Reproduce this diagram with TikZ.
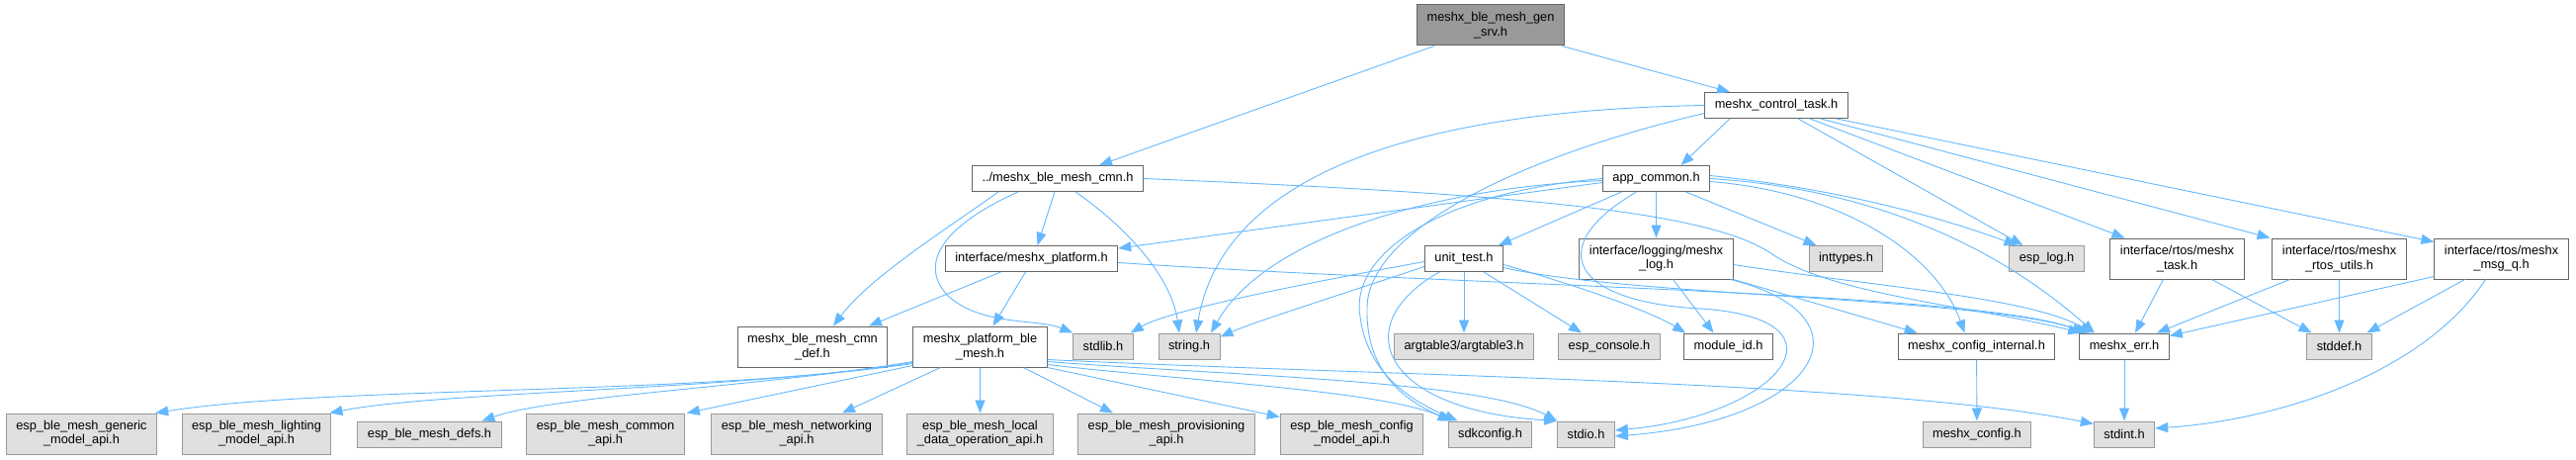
\documentclass[tikz,border=0pt]{standalone}
\usepackage{fontspec}
\setmainfont{Liberation Sans}
\usetikzlibrary{arrows.meta}
\definecolor{edge}{HTML}{63B8FF}
\definecolor{boxline}{HTML}{666666}
\definecolor{sysline}{HTML}{999999}
\definecolor{sysfill}{HTML}{E0E0E0}
\definecolor{rootfill}{HTML}{999999}
\tikzset{
  >={Triangle[length=13pt,width=10pt]},
  every node/.style={font=\fontsize{12.8}{14.3}\selectfont},
  hfile/.style={draw=boxline,line width=1pt,fill=white,align=center,inner xsep=10pt,
                inner ysep=2pt,minimum height=26pt},
  sysfile/.style={hfile,draw=sysline,fill=sysfill},
  rootfile/.style={hfile,draw=boxline,fill=rootfill},
  twoline/.style={minimum height=41pt},
  dep/.style={->,draw=edge,line width=0.9pt},
}

\begin{document}
\begin{tikzpicture}[x=1pt,y=1pt]
  \useasboundingbox (0,0) rectangle (2606,-465);

  % top levels
  \node[rootfile,twoline] (root) at (1508,-25.5) {meshx\_ble\_mesh\_gen\\\_srv.h};
  \node[hfile] (ctl) at (1797,-106.5) {meshx\_control\_task.h};
  \node[hfile] (cmn) at (1070,-180.5) {../meshx\_ble\_mesh\_cmn.h};
  \node[hfile] (app) at (1675.5,-180.5) {app\_common.h};

  % third row
  \node[hfile] (plat) at (1043.5,-261.5) {interface/meshx\_platform.h};
  \node[hfile] (unit) at (1481,-261.5) {unit\_test.h};
  \node[hfile,twoline] (log) at (1675.5,-261.5) {interface/logging/meshx\\\_log.h};
  \node[sysfile] (inttypes) at (1867.5,-261.5) {inttypes.h};
  \node[sysfile] (esplog) at (2070.5,-261.5) {esp\_log.h};
  \node[hfile,twoline] (rtask) at (2202.5,-261.5) {interface/rtos/meshx\\\_task.h};
  \node[hfile,twoline] (rutils) at (2366.5,-261.5) {interface/rtos/meshx\\\_rtos\_utils.h};
  \node[hfile,twoline] (msgq) at (2530.5,-261.5) {interface/rtos/meshx\\\_msg\_q.h};

  % fourth row
  \node[hfile,twoline] (cmndef) at (822,-350.5) {meshx\_ble\_mesh\_cmn\\\_def.h};
  \node[hfile,twoline] (pble) at (991.5,-350.5) {meshx\_platform\_ble\\\_mesh.h};
  \node[sysfile] (stdlib) at (1116,-350) {stdlib.h};
  \node[sysfile] (string) at (1203,-350) {string.h};
  \node[sysfile] (argtable) at (1481,-350) {argtable3/argtable3.h};
  \node[sysfile] (console) at (1628,-350) {esp\_console.h};
  \node[hfile] (module) at (1748.5,-350) {module\_id.h};
  \node[hfile] (cfgint) at (1999.5,-350) {meshx\_config\_internal.h};
  \node[hfile] (err) at (2149,-350) {meshx\_err.h};
  \node[sysfile] (stddef) at (2366.5,-350) {stddef.h};

  % bottom row
  \node[sysfile,twoline] (generic) at (82.5,-438.5) {esp\_ble\_mesh\_generic\\\_model\_api.h};
  \node[sysfile,twoline] (lighting) at (259.5,-438.5) {esp\_ble\_mesh\_lighting\\\_model\_api.h};
  \node[sysfile] (defs) at (434.5,-439) {esp\_ble\_mesh\_defs.h};
  \node[sysfile,twoline] (common) at (612.5,-438.5) {esp\_ble\_mesh\_common\\\_api.h};
  \node[sysfile,twoline] (networking) at (806,-438.5) {esp\_ble\_mesh\_networking\\\_api.h};
  \node[sysfile,twoline] (local) at (991.5,-438.5) {esp\_ble\_mesh\_local\\\_data\_operation\_api.h};
  \node[sysfile,twoline] (prov) at (1180,-438.5) {esp\_ble\_mesh\_provisioning\\\_api.h};
  \node[sysfile,twoline] (cfgmodel) at (1367.5,-438.5) {esp\_ble\_mesh\_config\\\_model\_api.h};
  \node[sysfile] (sdkconfig) at (1507.5,-439) {sdkconfig.h};
  \node[sysfile] (stdio) at (1604.5,-439) {stdio.h};
  \node[sysfile] (cfg) at (2000,-439) {meshx\_config.h};
  \node[sysfile] (stdint) at (2149,-439) {stdint.h};

  % from the root file
  \draw[dep] ([xshift=-57pt]root.south) -- ([xshift=42pt]cmn.north);
  \draw[dep] ([xshift=72pt]root.south) -- ([xshift=-47pt]ctl.north);

  % meshx_control_task.h
  \draw[dep] ([xshift=-47pt]ctl.south) -- ([xshift=25pt]app.north);
  \draw[dep] (ctl.west) .. controls (1400,-112) and (1235,-190) .. ([xshift=7pt]string.north);
  \draw[dep] ([yshift=-8pt]ctl.west) .. controls (1530,-160) and (1385,-235) .. (1383,-310)
             .. controls (1381,-375) and (1420,-405) .. ([xshift=-38pt]sdkconfig.north);
  \draw[dep] ([xshift=22pt]ctl.south) -- ([xshift=-24pt]esplog.north);
  \draw[dep] ([xshift=34pt]ctl.south) -- ([xshift=-53pt]rtask.north);
  \draw[dep] ([xshift=45pt]ctl.south) -- ([xshift=-70pt]rutils.north);
  \draw[dep] ([xshift=61pt]ctl.south) -- ([yshift=-4pt]msgq.north west);

  % ../meshx_ble_mesh_cmn.h
  \draw[dep] ([xshift=-3pt]cmn.south) -- ([xshift=6pt]plat.north);
  \draw[dep] ([xshift=18pt]cmn.south) .. controls (1140,-230) and (1185,-280) .. ([xshift=-10pt]string.north);
  \draw[dep] ([xshift=-40pt]cmn.south) .. controls (960,-225) and (925,-265) .. (960,-300)
             .. controls (995,-330) and (1050,-322) .. (stdlib.north west);
  \draw[dep] ([xshift=-60pt]cmn.south) .. controls (960,-230) and (880,-280) .. ([xshift=21pt]cmndef.north);
  \draw[dep] (cmn.east) .. controls (1500,-195) and (1720,-210) .. (1790,-255)
             .. controls (1850,-298) and (2000,-310) .. ([xshift=2pt]err.north west);

  % interface/meshx_platform.h
  \draw[dep] ([xshift=-31pt]plat.south) -- ([xshift=57pt]cmndef.north);
  \draw[dep] ([xshift=-6pt]plat.south) -- ([xshift=13pt]pble.north);
  \draw[dep] ([yshift=-4pt]plat.east) .. controls (1500,-290) and (2000,-295) .. ([xshift=6pt]err.north west);

  % meshx_platform_ble_mesh.h
  \draw[dep] ([yshift=4pt]pble.south west) .. controls (700,-400) and (330,-390) .. ([xshift=-2pt]generic.north east);
  \draw[dep] ([yshift=5pt]pble.south west) .. controls (740,-395) and (450,-395) .. ([xshift=-2pt]lighting.north east);
  \draw[dep] ([yshift=6pt]pble.south west) .. controls (780,-390) and (560,-400) .. ([xshift=53pt]defs.north);
  \draw[dep] ([yshift=2pt]pble.south west) -- ([xshift=2pt]common.north east);
  \foreach \dst/\fx/\tx in {networking/-40/46, local/0/0, prov/44/-54}
    \draw[dep] ([xshift=\fx pt]pble.south) -- ([xshift=\tx pt]\dst.north);
  \draw[dep] (pble.south east) -- ([yshift=-4pt]cfgmodel.north west);
  \draw[dep] ([yshift=3pt]pble.south east) .. controls (1200,-385) and (1400,-395) .. ([xshift=3pt]sdkconfig.north west);
  \draw[dep] ([yshift=6pt]pble.south east) .. controls (1250,-380) and (1500,-385) .. (stdio.north west);
  \draw[dep] ([yshift=8pt]pble.south east) .. controls (1400,-380) and (1900,-385) .. ([yshift=-3pt]stdint.north west);

  % app_common.h
  \draw[dep] ([yshift=-4pt]app.west) -- ([yshift=-3pt]plat.north east);
  \draw[dep] ([xshift=-35pt]app.south) -- ([xshift=35pt]unit.north);
  \draw[dep] (app.south) -- (log.north);
  \draw[dep] ([xshift=30pt]app.south) -- ([xshift=-30pt]inttypes.north);
  \draw[dep] ([yshift=3pt]app.east) .. controls (1850,-190) and (1950,-215) .. ([xshift=-30pt]esplog.north);
  \draw[dep] (app.east) .. controls (1880,-190) and (2010,-240) .. ([xshift=-30pt]err.north);
  \draw[dep] ([yshift=-3pt]app.east) .. controls (1870,-195) and (1960,-260) .. ([xshift=-12pt]cfgint.north);
  \draw[dep] ([yshift=-2pt]app.west) .. controls (1450,-190) and (1280,-240) .. ([xshift=22pt]string.north);
  \draw[dep] (app.west) .. controls (1450,-195) and (1365,-260) .. (1376,-320)
             .. controls (1384,-385) and (1440,-410) .. ([xshift=-33pt]sdkconfig.north);
  \draw[dep] ([xshift=-20pt]app.south) .. controls (1560,-250) and (1590,-305) .. (1720,-312)
             .. controls (1880,-322) and (1800,-420) .. ([yshift=4pt]stdio.east);

  % unit_test.h
  \draw[dep] ([yshift=-3pt]unit.west) .. controls (1300,-290) and (1180,-315) .. ([xshift=-3pt]stdlib.north east);
  \draw[dep] ([yshift=-8pt]unit.west) .. controls (1350,-300) and (1270,-325) .. ([yshift=-4pt]string.north east);
  \draw[dep] (unit.south) -- (argtable.north);
  \draw[dep] ([xshift=20pt]unit.south) -- ([xshift=-28pt]console.north);
  \draw[dep] ([yshift=-6pt]unit.east) .. controls (1600,-290) and (1670,-315) .. ([xshift=2pt]module.north west);
  \draw[dep] ([yshift=-9pt]unit.east) .. controls (1650,-300) and (2000,-300) .. ([xshift=10pt]err.north west);
  \draw[dep] ([xshift=-25pt]unit.south) .. controls (1360,-330) and (1400,-415) .. (stdio.north west);

  % interface/logging/meshx_log.h
  \draw[dep] ([xshift=17pt]log.south) -- ([xshift=-15pt]module.north);
  \draw[dep] ([xshift=78pt]log.south) -- ([xshift=20pt]cfgint.north west);
  \draw[dep] ([yshift=-6pt]log.east) .. controls (1900,-290) and (2050,-300) .. ([xshift=14pt]err.north west);
  \draw[dep] ([xshift=75pt]log.south) .. controls (1900,-320) and (1840,-425) .. ([yshift=-2pt]stdio.east);

  % lower levels
  \draw[dep] (cfgint) -- (cfg);
  \draw[dep] (err) -- (stdint);
  \draw[dep] ([xshift=-14pt]rtask.south) -- ([xshift=11pt]err.north);
  \draw[dep] ([xshift=35pt]rtask.south) -- ([xshift=-28pt]stddef.north);
  \draw[dep] ([xshift=-50pt]rutils.south) -- ([xshift=33pt]err.north);
  \draw[dep] (rutils.south) -- (stddef.north);
  \draw[dep] ([yshift=3pt]msgq.south west) -- ([yshift=-3pt]err.north east);
  \draw[dep] ([xshift=-37pt]msgq.south) -- ([xshift=28pt]stddef.north);
  \draw[dep] ([xshift=-16pt]msgq.south) .. controls (2450,-380) and (2300,-425) .. ([yshift=6pt]stdint.east);
\end{tikzpicture}
\end{document}
